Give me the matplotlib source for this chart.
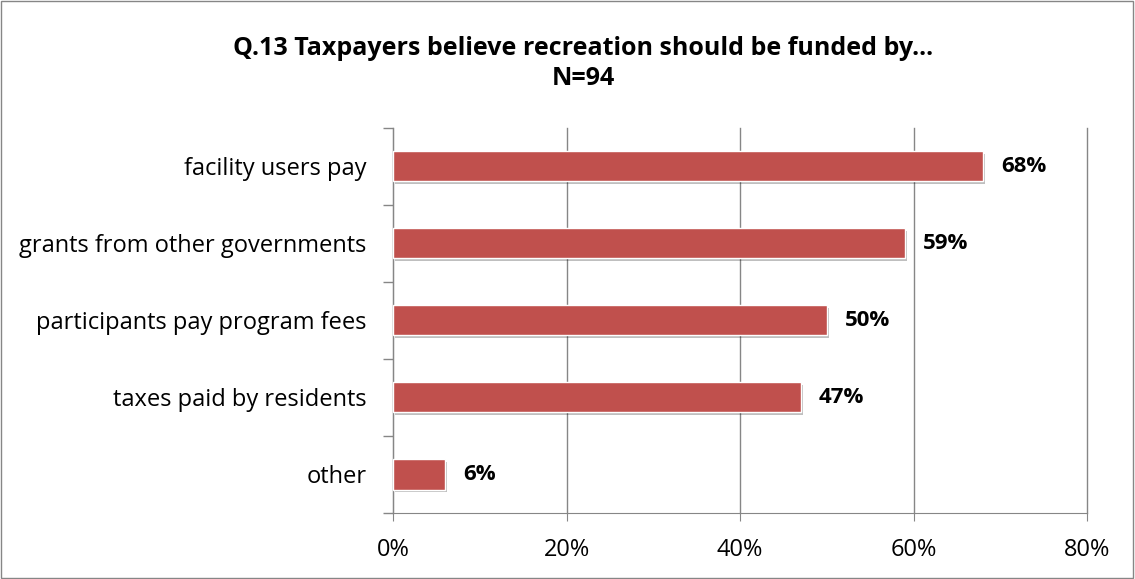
import matplotlib
matplotlib.use('Agg')
import matplotlib.pyplot as plt
import matplotlib.patheffects as pe
from matplotlib.ticker import MultipleLocator, PercentFormatter

plt.rcParams['font.family'] = ['Open Sans', 'DejaVu Sans']

# funding sources, top to bottom, and share of taxpayers (%)
categories = ['facility users pay', 'grants from other governments',
              'participants pay program fees', 'taxes paid by residents', 'other']
shares = [68, 59, 50, 47, 6]

bar_color = '#C0504D'
grid_color = '#868686'

fig = plt.figure(figsize=(11.35, 5.79), dpi=100)
ax = fig.add_axes([0.3463, 0.114, 0.6114, 0.665])

y = list(range(len(categories)))[::-1]
bars = ax.barh(y, shares, height=0.39, color=bar_color, edgecolor='white',
               linewidth=1.0, zorder=3)
for b in bars:
    b.set_path_effects([pe.SimplePatchShadow(offset=(1.5, -2), shadow_rgbFace='#000000', alpha=0.25),
                        pe.Normal()])

# value labels just right of each bar
for yi, v in zip(y, shares):
    ax.annotate(f'{v}%', xy=(v, yi), xytext=(13, 0), textcoords='offset points',
                va='center', ha='left', fontsize=16, fontweight='bold', color='black')

ax.set_xlim(0, 80)
ax.set_ylim(-0.5, len(categories) - 0.5)
ax.xaxis.set_major_locator(MultipleLocator(20))
ax.xaxis.set_major_formatter(PercentFormatter(decimals=0))
ax.grid(axis='x', color=grid_color, linewidth=1.0, zorder=0)
for gl in ax.get_xgridlines():
    gl.set_clip_on(False)

ax.set_yticks(y)
ax.set_yticklabels(categories, fontsize=17)
ax.set_yticks([i - 0.5 for i in range(len(categories) + 1)], minor=True)
ax.tick_params(axis='y', which='major', length=0, pad=19)
ax.tick_params(axis='y', which='minor', length=7, color=grid_color, width=1)
ax.tick_params(axis='x', length=6, color=grid_color, labelsize=17, pad=12, direction='out')

for s in ['top', 'right']:
    ax.spines[s].set_visible(False)
ax.spines['left'].set_color(grid_color)
ax.spines['bottom'].set_color(grid_color)

fig.text(0.5137, 0.917, 'Q.13 Taxpayers believe recreation should be funded by...',
         ha='center', va='center', fontsize=18, fontweight='bold')
fig.text(0.5137, 0.865, 'N=94', ha='center', va='center', fontsize=18, fontweight='bold')

# outer chart border
fig.patches.append(plt.Rectangle((0.001, 0.002), 0.997, 0.996, transform=fig.transFigure,
                                 fill=False, edgecolor='#868686', linewidth=1.0))

fig.savefig('out.png', dpi=100)
